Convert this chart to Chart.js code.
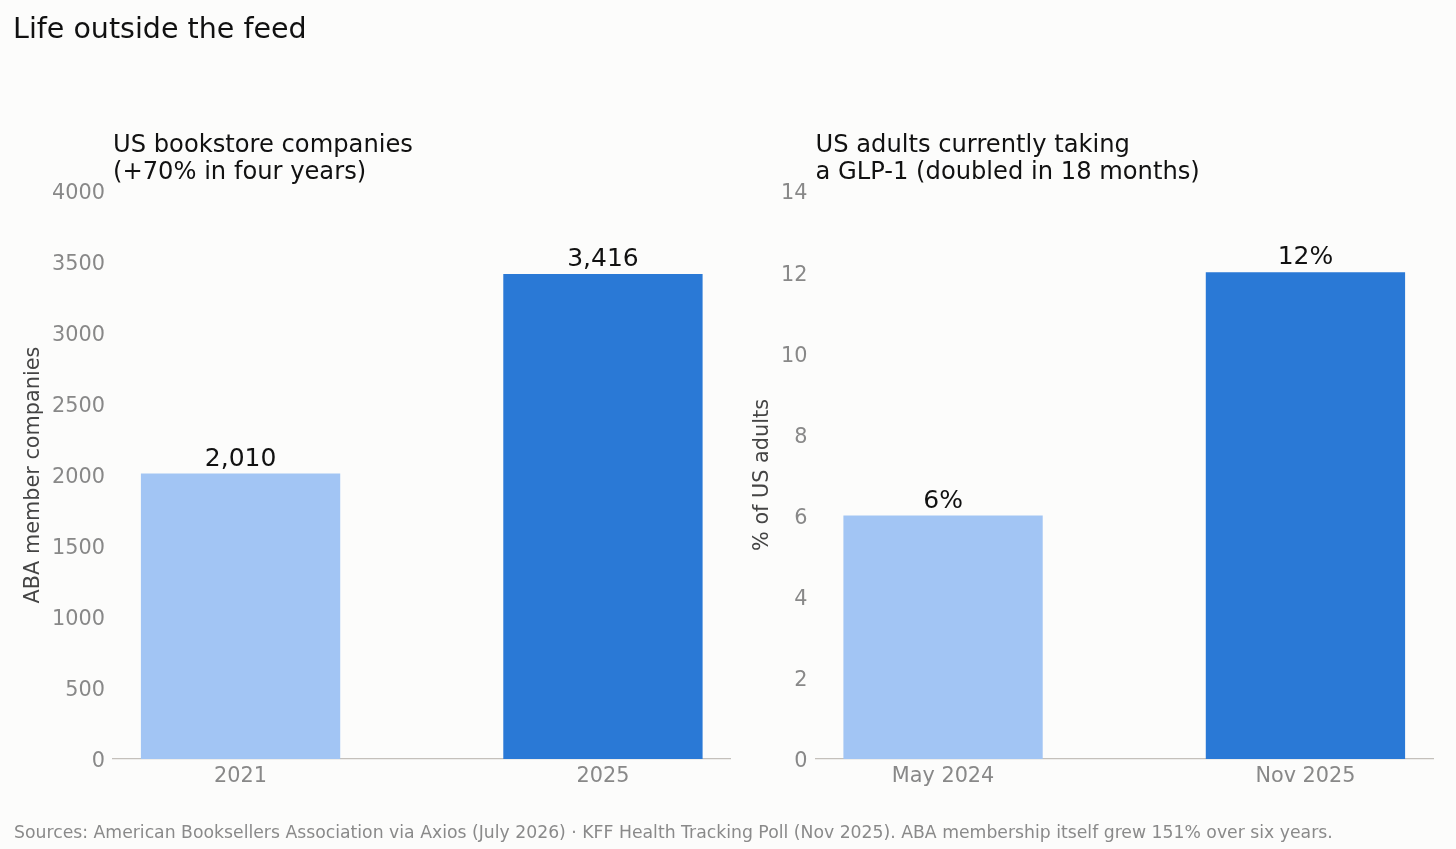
<!DOCTYPE html>
<html><head><meta charset="utf-8">
<script src="https://cdn.jsdelivr.net/npm/chart.js@4.4.1/dist/chart.umd.min.js"></script>
<style>
html,body{margin:0;padding:0;background:#fcfcfb;overflow:hidden;}
#wrap{position:relative;width:1456px;height:849px;}
canvas{position:absolute;left:0;top:0;}
</style></head><body>
<div id="wrap"><canvas id="c1" width="1456" height="849"></canvas><canvas id="c2" width="1456" height="849"></canvas></div>
<script>
const pageTitle = "Life outside the feed";
const footerText = "Sources: American Booksellers Association via Axios (July 2026) \u00b7 KFF Health Tracking Poll (Nov 2025). ABA membership itself grew 151% over six years.";

const bookTitle = ["US bookstore companies", "(+70% in four years)"];
const bookYears = ["2021", "2025"];
const bookValues = [2010, 3416];
const bookYTitle = "ABA member companies";

const glpTitle = ["US adults currently taking", "a GLP-1 (doubled in 18 months)"];
const glpDates = ["May 2024", "Nov 2025"];
const glpValues = [6, 12];
const glpYTitle = "% of US adults";

const barColors = ["#a2c5f4", "#2a79d6"];
const FONT = '"DejaVu Sans", Verdana, sans-serif';

function makeChart(id, cfg) {
  const labelPlugin = {
    id: 'valueLabels_' + id,
    afterDatasetsDraw(chart) {
      const ctx = chart.ctx;
      const meta = chart.getDatasetMeta(0);
      ctx.save();
      ctx.font = '25px ' + FONT;
      ctx.fillStyle = '#111';
      ctx.textAlign = 'center';
      ctx.textBaseline = 'alphabetic';
      meta.data.forEach((bar, i) => {
        ctx.fillText(cfg.format(cfg.values[i]), bar.x, bar.y - 8);
      });
      ctx.restore();
    },
    afterDraw(chart) {
      const ctx = chart.ctx;
      ctx.save();
      ctx.fillStyle = '#111';
      ctx.textAlign = 'left';
      ctx.textBaseline = 'alphabetic';
      ctx.font = '24.2px ' + FONT;
      cfg.title.forEach((line, i) => ctx.fillText(line, chart.chartArea.left, 152 + i * 27));
      if (cfg.page) {
        ctx.font = '28.5px ' + FONT;
        ctx.fillText(pageTitle, 13, 38);
        ctx.font = '17.25px ' + FONT;
        ctx.fillStyle = '#8a8a8a';
        ctx.fillText(footerText, 14, 838);
      }
      ctx.restore();
    }
  };
  return new Chart(document.getElementById(id), {
    type: 'bar',
    data: {
      datasets: [{
        data: cfg.values.map((v, i) => ({ x: i, y: v })),
        backgroundColor: barColors,
        borderWidth: 0,
        barPercentage: 0.55,
        categoryPercentage: 1
      }]
    },
    options: {
      responsive: false,
      animation: false,
      devicePixelRatio: 1,
      layout: { padding: { left: cfg.padLeft, right: cfg.padRight, top: 191, bottom: 50 } },
      plugins: { legend: { display: false }, tooltip: { enabled: false } },
      scales: {
        x: {
          type: 'linear', min: -0.352, max: 1.352, offset: false,
          grid: { display: false, drawTicks: false },
          border: { display: true, color: '#c4c0bb', width: 1.3 },
          afterBuildTicks: (s) => { s.ticks = cfg.labels.map((l, i) => ({ value: i })); },
          ticks: {
            callback: (v) => cfg.labels[v],
            font: { family: FONT, size: 20.8 }, color: '#888', padding: 5,
            maxRotation: 0, autoSkip: false
          },
          afterFit: (s) => { s.height = 40; }
        },
        y: {
          min: 0, max: cfg.max,
          grid: { display: false, drawTicks: false },
          border: { display: false },
          ticks: {
            stepSize: cfg.step,
            callback: (v) => String(v),
            font: { family: FONT, size: 20.8 }, color: '#888', padding: 8,
            labelOffset: 3
          },
          title: {
            display: true, text: cfg.yTitle, color: '#444',
            font: { family: FONT, size: 20.8 }, padding: { top: cfg.titlePad, bottom: 0 }
          },
          afterFit: (s) => { s.width = cfg.yWidth; }
        }
      }
    },
    plugins: [labelPlugin]
  });
}

makeChart('c1', {
  values: bookValues, labels: bookYears, title: bookTitle, yTitle: bookYTitle,
  max: 4000, step: 500, format: (v) => v.toLocaleString('en-US'),
  padLeft: 0, padRight: 725.5, yWidth: 113, titlePad: 21, page: true
});
makeChart('c2', {
  values: glpValues, labels: glpDates, title: glpTitle, yTitle: glpYTitle,
  max: 14, step: 2, format: (v) => v + '%',
  padLeft: 739.5, padRight: 23, yWidth: 76, titlePad: 11, page: false
});
</script>
</body></html>
